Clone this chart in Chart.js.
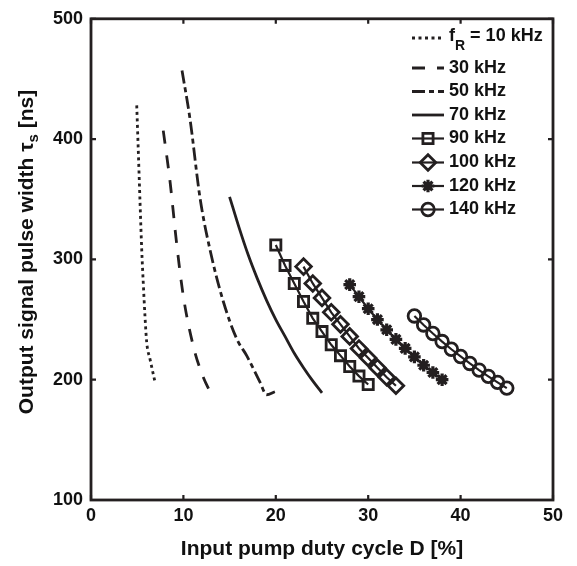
<!DOCTYPE html>
<html><head><meta charset="utf-8">
<script src="https://cdn.jsdelivr.net/npm/chart.js@4/dist/chart.umd.min.js"></script>
<style>html,body{margin:0;padding:0;background:#fff}#wrap{width:577px;height:566px;position:relative}</style>
</head><body><div id="wrap"><canvas id="c" width="577" height="566"></canvas></div>
<script>
// ---- data ----
const xTicks = [0, 10, 20, 30, 40, 50];
const yTicks = [100, 200, 300, 400, 500];
const seriesNames = ['10 kHz', '30 kHz', '50 kHz', '70 kHz', '90 kHz', '100 kHz', '120 kHz', '140 kHz'];

const d10x = [4.95, 5.12, 5.3, 5.49, 5.66, 5.84, 6.03, 6.39, 6.93];
const d10y = [428, 390, 349, 308, 280, 253, 231, 217, 198];

const d30x = [7.82, 8.55, 9.27, 10.0, 11.07, 12.0, 13.06];
const d30y = [407, 365, 313, 269, 228, 205, 187];

const d50x = [9.85, 10.71, 11.8, 12.88, 14.32, 15.77, 16.85, 18.29, 19.0, 19.9];
const d50y = [457, 417, 351, 308, 265, 234, 220, 198, 187.5, 190];

const d70x = [15, 16, 17, 18, 19, 20, 21, 22, 23, 24, 25];
const d70y = [352, 327, 304, 284, 266, 250, 236, 222, 210, 199, 189];

const d90x = [20, 21, 22, 23, 24, 25, 26, 27, 28, 29, 30];
const d90y = [312, 295, 280, 265, 251, 240, 229, 220, 211, 203, 196];

const d100x = [23, 24, 25, 26, 27, 28, 29, 30, 31, 32, 33];
const d100y = [294, 280, 268, 256, 246, 236, 226, 218, 210, 202, 195];

const d120x = [28, 29, 30, 31, 32, 33, 34, 35, 36, 37, 38];
const d120y = [279, 269, 259, 250, 241.5, 233.5, 226, 219, 212, 206, 200];

const d140x = [35, 36, 37, 38, 39, 40, 41, 42, 43, 44, 45];
const d140y = [253, 245.5, 238.4, 231.7, 225.3, 219.3, 213.5, 208, 202.8, 197.8, 193];

// ---- styling ----
const INK = '#231f20';
const FONT = "'Liberation Sans', Arial, Helvetica, sans-serif";
const LEGEND_ROWS = [38, 68, 91.5, 115, 138.5, 162.5, 186, 209.5];
const pts = (xs, ys) => xs.map((x, i) => ({x: x, y: ys[i]}));

function curve(label, xs, ys, dash) {
  return {label, data: pts(xs, ys), showLine: true, borderColor: INK, borderWidth: 2.8,
    borderDash: dash, borderCapStyle: 'butt', pointRadius: 0, pointHoverRadius: 0,
    cubicInterpolationMode: 'monotone', fill: false};
}
function marked(label, xs, ys, style, r, filled, bw) {
  return {label, data: pts(xs, ys), showLine: true, borderColor: INK, borderWidth: 2.2,
    pointStyle: style, pointRadius: r, pointHoverRadius: r, pointBorderWidth: bw,
    pointBorderColor: INK, pointBackgroundColor: filled ? INK : 'rgba(0,0,0,0)', fill: false};
}

const datasets = [
  curve(seriesNames[0], d10x, d10y, [3, 3.5]),
  curve(seriesNames[1], d30x, d30y, [13, 12]),
  curve(seriesNames[2], d50x, d50y, [13, 4, 5, 4]),
  curve(seriesNames[3], d70x, d70y, []),
  marked(seriesNames[4], d90x, d90y, 'rect', 7.2, false, 2.8),
  marked(seriesNames[5], d100x, d100y, 'rectRot', 7.8, false, 2.8),
  marked(seriesNames[6], d120x, d120y, 'star', 6.3, true, 3.2),
  marked(seriesNames[7], d140x, d140y, 'circle', 6.3, false, 2.8)
];

const framePlugin = {
  id: 'frame',
  afterDatasetsDraw(chart) {
    const {ctx, chartArea: a, scales} = chart;
    ctx.save();
    ctx.strokeStyle = INK;
    ctx.lineWidth = 2.8;
    ctx.strokeRect(a.left, a.top, a.right - a.left, a.bottom - a.top);
    ctx.lineWidth = 2.2;
    const L = 5;
    ctx.beginPath();
    xTicks.forEach(v => {
      const px = scales.x.getPixelForValue(v);
      ctx.moveTo(px, a.bottom); ctx.lineTo(px, a.bottom - L);
      ctx.moveTo(px, a.top); ctx.lineTo(px, a.top + L);
    });
    yTicks.forEach(v => {
      const py = scales.y.getPixelForValue(v);
      ctx.moveTo(a.left, py); ctx.lineTo(a.left + L, py);
      ctx.moveTo(a.right, py); ctx.lineTo(a.right - L, py);
    });
    ctx.stroke();

    // axis titles
    ctx.fillStyle = '#111';
    ctx.textBaseline = 'middle';
    ctx.font = 'bold 21px ' + FONT;
    ctx.textAlign = 'center';
    ctx.fillText('Input pump duty cycle D [%]', (a.left + a.right) / 2, 549);

    // y title with subscript
    const p1 = 'Output signal pulse width \u03C4', sub = 's', p2 = ' [ns]';
    const w1 = ctx.measureText(p1).width;
    ctx.font = 'bold 15px ' + FONT;
    const ws = ctx.measureText(sub).width;
    ctx.font = 'bold 21px ' + FONT;
    const w2 = ctx.measureText(p2).width;
    const total = w1 + ws + w2;
    ctx.translate(27, 252);
    ctx.rotate(-Math.PI / 2);
    ctx.textAlign = 'left';
    let x0 = -total / 2;
    ctx.fillText(p1, x0, 0);
    ctx.font = 'bold 15px ' + FONT;
    ctx.fillText(sub, x0 + w1, 7);
    ctx.font = 'bold 21px ' + FONT;
    ctx.fillText(p2, x0 + w1 + ws, 0);
    ctx.restore();

    // legend
    ctx.save();
    const lx0 = 412, lx1 = 444, tx = 449;
    chart.data.datasets.forEach((ds, i) => {
      const y = LEGEND_ROWS[i];
      ctx.strokeStyle = INK;
      ctx.lineWidth = ds.borderWidth;
      ctx.setLineDash(ds.borderDash || []);
      ctx.lineCap = 'butt';
      ctx.beginPath(); ctx.moveTo(lx0, y); ctx.lineTo(lx1, y); ctx.stroke();
      ctx.setLineDash([]);
      if (ds.pointRadius > 0) {
        ctx.fillStyle = ds.pointBackgroundColor;
        ctx.strokeStyle = ds.pointBorderColor;
        ctx.lineWidth = ds.pointBorderWidth;
        Chart.helpers.drawPoint(ctx, {pointStyle: ds.pointStyle, radius: ds.pointRadius,
          borderWidth: ds.pointBorderWidth, rotation: 0}, (lx0 + lx1) / 2, y);
      }
      ctx.fillStyle = '#111';
      ctx.textBaseline = 'middle';
      ctx.textAlign = 'left';
      ctx.font = 'bold 18px ' + FONT;
      if (i === 0) {
        ctx.fillText('f', tx, y - 1.5);
        const wf = ctx.measureText('f').width;
        ctx.font = 'bold 14px ' + FONT;
        ctx.fillText('R', tx + wf, y + 8);
        const wr = ctx.measureText('R').width;
        ctx.font = 'bold 18px ' + FONT;
        ctx.fillText(' = ' + ds.label, tx + wf + wr, y - 1.5);
      } else {
        ctx.fillText(ds.label, tx, y);
      }
    });
    ctx.restore();
  }
};

new Chart(document.getElementById('c'), {
  type: 'scatter',
  data: {datasets},
  options: {
    responsive: false, animation: false, devicePixelRatio: 1,
    layout: {padding: {top: 12, right: 24, left: 0, bottom: 0}},
    plugins: {legend: {display: false}, tooltip: {enabled: false}},
    scales: {
      x: {type: 'linear', min: 0, max: 50,
        afterFit: s => { s.height = 66; },
        afterBuildTicks: s => { s.ticks = xTicks.map(v => ({value: v})); },
        grid: {display: false, drawTicks: false}, border: {display: false},
        ticks: {color: '#111', font: {family: FONT, size: 18, weight: 'bold'}, padding: 5, maxRotation: 0}},
      y: {type: 'linear', min: 100, max: 500,
        afterFit: s => { s.width = 91; },
        afterBuildTicks: s => { s.ticks = yTicks.map(v => ({value: v})); },
        grid: {display: false, drawTicks: false}, border: {display: false},
        ticks: {color: '#111', font: {family: FONT, size: 18, weight: 'bold'}, padding: 8}}
    }
  },
  plugins: [framePlugin]
});
</script>
</body></html>
